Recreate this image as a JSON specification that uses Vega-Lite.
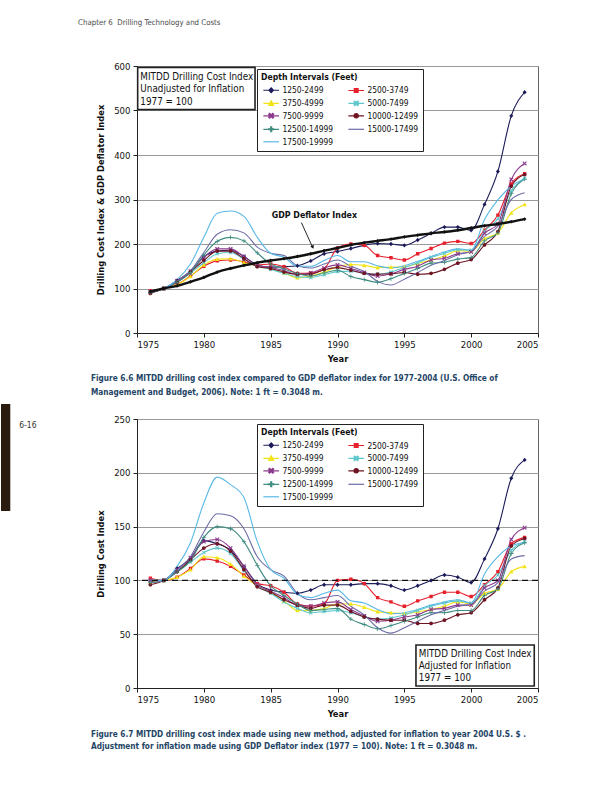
{
"$schema": "https://vega.github.io/schema/vega-lite/v6.json",
"padding": {"left": 0, "top": 18, "right": 5, "bottom": 5},
"background": "white",
"config": {
  "font": "DejaVu Sans Condensed, DejaVu Sans, sans-serif",
  "view": {"stroke": "#666", "strokeWidth": 1},
  "axis": {"labelFontSize": 9.5, "titleFontSize": 9.3, "titleFontWeight": "bold", "tickSize": 4, "labelPadding": 3, "domainColor": "#222", "tickColor": "#222", "labelColor": "#111", "titleColor": "#111", "gridColor": "#9a9a9a", "gridOpacity": 1},
  "legend": {"labelFontSize": 8.4, "labelColor": "#111", "titleFontSize": 8.6, "titleFontWeight": "bold", "titleColor": "#111", "labelLimit": 200, "symbolStrokeWidth": 1.2}
},
"datasets": {
"depth": [
{"series":"1250-2499","year":1976,"unadj":92,"adj":99},{"series":"1250-2499","year":1977,"unadj":100,"adj":100},{"series":"1250-2499","year":1978,"unadj":118,"adj":111},{"series":"1250-2499","year":1979,"unadj":138,"adj":120},{"series":"1250-2499","year":1980,"unadj":171,"adj":137},{"series":"1250-2499","year":1981,"unadj":184,"adj":134},{"series":"1250-2499","year":1982,"unadj":186,"adj":128},{"series":"1250-2499","year":1983,"unadj":172,"adj":113},{"series":"1250-2499","year":1984,"unadj":153,"adj":97},{"series":"1250-2499","year":1985,"unadj":148,"adj":91},{"series":"1250-2499","year":1986,"unadj":149,"adj":89},{"series":"1250-2499","year":1987,"unadj":151,"adj":88},{"series":"1250-2499","year":1988,"unadj":162,"adj":91},{"series":"1250-2499","year":1989,"unadj":178,"adj":96},{"series":"1250-2499","year":1990,"unadj":183,"adj":96},{"series":"1250-2499","year":1991,"unadj":190,"adj":96},{"series":"1250-2499","year":1992,"unadj":197,"adj":97},{"series":"1250-2499","year":1993,"unadj":201,"adj":97},{"series":"1250-2499","year":1994,"unadj":200,"adj":95},{"series":"1250-2499","year":1995,"unadj":197,"adj":91},{"series":"1250-2499","year":1996,"unadj":209,"adj":95},{"series":"1250-2499","year":1997,"unadj":224,"adj":100},{"series":"1250-2499","year":1998,"unadj":238,"adj":105},{"series":"1250-2499","year":1999,"unadj":238,"adj":103},{"series":"1250-2499","year":2000,"unadj":231,"adj":98},{"series":"1250-2499","year":2001,"unadj":289,"adj":120},{"series":"1250-2499","year":2002,"unadj":363,"adj":148},{"series":"1250-2499","year":2003,"unadj":488,"adj":195},{"series":"1250-2499","year":2004,"unadj":541,"adj":212},
{"series":"2500-3749","year":1976,"unadj":95,"adj":102},{"series":"2500-3749","year":1977,"unadj":100,"adj":100},{"series":"2500-3749","year":1978,"unadj":109,"adj":103},{"series":"2500-3749","year":1979,"unadj":128,"adj":111},{"series":"2500-3749","year":1980,"unadj":150,"adj":120},{"series":"2500-3749","year":1981,"unadj":162,"adj":118},{"series":"2500-3749","year":1982,"unadj":164,"adj":113},{"series":"2500-3749","year":1983,"unadj":160,"adj":105},{"series":"2500-3749","year":1984,"unadj":153,"adj":97},{"series":"2500-3749","year":1985,"unadj":155,"adj":95},{"series":"2500-3749","year":1986,"unadj":149,"adj":89},{"series":"2500-3749","year":1987,"unadj":134,"adj":78},{"series":"2500-3749","year":1988,"unadj":135,"adj":76},{"series":"2500-3749","year":1989,"unadj":144,"adj":78},{"series":"2500-3749","year":1990,"unadj":191,"adj":100},{"series":"2500-3749","year":1991,"unadj":200,"adj":101},{"series":"2500-3749","year":1992,"unadj":197,"adj":97},{"series":"2500-3749","year":1993,"unadj":174,"adj":84},{"series":"2500-3749","year":1994,"unadj":169,"adj":80},{"series":"2500-3749","year":1995,"unadj":164,"adj":76},{"series":"2500-3749","year":1996,"unadj":178,"adj":81},{"series":"2500-3749","year":1997,"unadj":190,"adj":85},{"series":"2500-3749","year":1998,"unadj":202,"adj":89},{"series":"2500-3749","year":1999,"unadj":206,"adj":89},{"series":"2500-3749","year":2000,"unadj":201,"adj":85},{"series":"2500-3749","year":2001,"unadj":231,"adj":96},{"series":"2500-3749","year":2002,"unadj":265,"adj":108},{"series":"2500-3749","year":2003,"unadj":335,"adj":134},{"series":"2500-3749","year":2004,"unadj":358,"adj":140},
{"series":"3750-4999","year":1976,"unadj":91,"adj":98},{"series":"3750-4999","year":1977,"unadj":100,"adj":100},{"series":"3750-4999","year":1978,"unadj":109,"adj":103},{"series":"3750-4999","year":1979,"unadj":127,"adj":110},{"series":"3750-4999","year":1980,"unadj":153,"adj":122},{"series":"3750-4999","year":1981,"unadj":166,"adj":121},{"series":"3750-4999","year":1982,"unadj":167,"adj":115},{"series":"3750-4999","year":1983,"unadj":158,"adj":104},{"series":"3750-4999","year":1984,"unadj":150,"adj":95},{"series":"3750-4999","year":1985,"unadj":145,"adj":89},{"series":"3750-4999","year":1986,"unadj":135,"adj":81},{"series":"3750-4999","year":1987,"unadj":124,"adj":72},{"series":"3750-4999","year":1988,"unadj":128,"adj":72},{"series":"3750-4999","year":1989,"unadj":137,"adj":74},{"series":"3750-4999","year":1990,"unadj":149,"adj":78},{"series":"3750-4999","year":1991,"unadj":154,"adj":78},{"series":"3750-4999","year":1992,"unadj":152,"adj":75},{"series":"3750-4999","year":1993,"unadj":147,"adj":71},{"series":"3750-4999","year":1994,"unadj":148,"adj":70},{"series":"3750-4999","year":1995,"unadj":149,"adj":69},{"series":"3750-4999","year":1996,"unadj":156,"adj":71},{"series":"3750-4999","year":1997,"unadj":164,"adj":73},{"series":"3750-4999","year":1998,"unadj":173,"adj":76},{"series":"3750-4999","year":1999,"unadj":185,"adj":80},{"series":"3750-4999","year":2000,"unadj":184,"adj":78},{"series":"3750-4999","year":2001,"unadj":212,"adj":88},{"series":"3750-4999","year":2002,"unadj":225,"adj":92},{"series":"3750-4999","year":2003,"unadj":270,"adj":108},{"series":"3750-4999","year":2004,"unadj":289,"adj":113},
{"series":"5000-7499","year":1976,"unadj":93,"adj":100},{"series":"5000-7499","year":1977,"unadj":100,"adj":100},{"series":"5000-7499","year":1978,"unadj":116,"adj":109},{"series":"5000-7499","year":1979,"unadj":135,"adj":117},{"series":"5000-7499","year":1980,"unadj":158,"adj":126},{"series":"5000-7499","year":1981,"unadj":178,"adj":130},{"series":"5000-7499","year":1982,"unadj":181,"adj":125},{"series":"5000-7499","year":1983,"unadj":166,"adj":109},{"series":"5000-7499","year":1984,"unadj":150,"adj":95},{"series":"5000-7499","year":1985,"unadj":143,"adj":88},{"series":"5000-7499","year":1986,"unadj":134,"adj":80},{"series":"5000-7499","year":1987,"unadj":127,"adj":74},{"series":"5000-7499","year":1988,"unadj":125,"adj":70},{"series":"5000-7499","year":1989,"unadj":131,"adj":71},{"series":"5000-7499","year":1990,"unadj":138,"adj":72},{"series":"5000-7499","year":1991,"unadj":139,"adj":70},{"series":"5000-7499","year":1992,"unadj":134,"adj":66},{"series":"5000-7499","year":1993,"unadj":132,"adj":64},{"series":"5000-7499","year":1994,"unadj":137,"adj":65},{"series":"5000-7499","year":1995,"unadj":147,"adj":68},{"series":"5000-7499","year":1996,"unadj":158,"adj":72},{"series":"5000-7499","year":1997,"unadj":170,"adj":76},{"series":"5000-7499","year":1998,"unadj":179,"adj":79},{"series":"5000-7499","year":1999,"unadj":187,"adj":81},{"series":"5000-7499","year":2000,"unadj":186,"adj":79},{"series":"5000-7499","year":2001,"unadj":229,"adj":95},{"series":"5000-7499","year":2002,"unadj":257,"adj":105},{"series":"5000-7499","year":2003,"unadj":320,"adj":128},{"series":"5000-7499","year":2004,"unadj":348,"adj":136},
{"series":"7500-9999","year":1976,"unadj":93,"adj":100},{"series":"7500-9999","year":1977,"unadj":100,"adj":100},{"series":"7500-9999","year":1978,"unadj":117,"adj":110},{"series":"7500-9999","year":1979,"unadj":139,"adj":121},{"series":"7500-9999","year":1980,"unadj":170,"adj":136},{"series":"7500-9999","year":1981,"unadj":189,"adj":138},{"series":"7500-9999","year":1982,"unadj":189,"adj":130},{"series":"7500-9999","year":1983,"unadj":172,"adj":113},{"series":"7500-9999","year":1984,"unadj":152,"adj":96},{"series":"7500-9999","year":1985,"unadj":147,"adj":90},{"series":"7500-9999","year":1986,"unadj":140,"adj":84},{"series":"7500-9999","year":1987,"unadj":132,"adj":77},{"series":"7500-9999","year":1988,"unadj":135,"adj":76},{"series":"7500-9999","year":1989,"unadj":146,"adj":79},{"series":"7500-9999","year":1990,"unadj":153,"adj":80},{"series":"7500-9999","year":1991,"unadj":145,"adj":73},{"series":"7500-9999","year":1992,"unadj":136,"adj":67},{"series":"7500-9999","year":1993,"unadj":128,"adj":62},{"series":"7500-9999","year":1994,"unadj":133,"adj":63},{"series":"7500-9999","year":1995,"unadj":143,"adj":66},{"series":"7500-9999","year":1996,"unadj":150,"adj":68},{"series":"7500-9999","year":1997,"unadj":164,"adj":73},{"series":"7500-9999","year":1998,"unadj":168,"adj":74},{"series":"7500-9999","year":1999,"unadj":178,"adj":77},{"series":"7500-9999","year":2000,"unadj":182,"adj":77},{"series":"7500-9999","year":2001,"unadj":224,"adj":93},{"series":"7500-9999","year":2002,"unadj":245,"adj":100},{"series":"7500-9999","year":2003,"unadj":345,"adj":138},{"series":"7500-9999","year":2004,"unadj":381,"adj":149},
{"series":"10000-12499","year":1976,"unadj":89,"adj":96},{"series":"10000-12499","year":1977,"unadj":100,"adj":100},{"series":"10000-12499","year":1978,"unadj":114,"adj":108},{"series":"10000-12499","year":1979,"unadj":137,"adj":119},{"series":"10000-12499","year":1980,"unadj":163,"adj":130},{"series":"10000-12499","year":1981,"unadj":184,"adj":134},{"series":"10000-12499","year":1982,"unadj":184,"adj":127},{"series":"10000-12499","year":1983,"unadj":167,"adj":110},{"series":"10000-12499","year":1984,"unadj":149,"adj":94},{"series":"10000-12499","year":1985,"unadj":145,"adj":89},{"series":"10000-12499","year":1986,"unadj":137,"adj":82},{"series":"10000-12499","year":1987,"unadj":132,"adj":77},{"series":"10000-12499","year":1988,"unadj":132,"adj":74},{"series":"10000-12499","year":1989,"unadj":142,"adj":77},{"series":"10000-12499","year":1990,"unadj":147,"adj":77},{"series":"10000-12499","year":1991,"unadj":141,"adj":71},{"series":"10000-12499","year":1992,"unadj":134,"adj":66},{"series":"10000-12499","year":1993,"unadj":132,"adj":64},{"series":"10000-12499","year":1994,"unadj":133,"adj":63},{"series":"10000-12499","year":1995,"unadj":136,"adj":63},{"series":"10000-12499","year":1996,"unadj":132,"adj":60},{"series":"10000-12499","year":1997,"unadj":134,"adj":60},{"series":"10000-12499","year":1998,"unadj":143,"adj":63},{"series":"10000-12499","year":1999,"unadj":157,"adj":68},{"series":"10000-12499","year":2000,"unadj":165,"adj":70},{"series":"10000-12499","year":2001,"unadj":198,"adj":82},{"series":"10000-12499","year":2002,"unadj":228,"adj":93},{"series":"10000-12499","year":2003,"unadj":330,"adj":132},{"series":"10000-12499","year":2004,"unadj":356,"adj":139},
{"series":"12500-14999","year":1976,"unadj":91,"adj":98},{"series":"12500-14999","year":1977,"unadj":100,"adj":100},{"series":"12500-14999","year":1978,"unadj":114,"adj":108},{"series":"12500-14999","year":1979,"unadj":136,"adj":118},{"series":"12500-14999","year":1980,"unadj":175,"adj":140},{"series":"12500-14999","year":1981,"unadj":206,"adj":150},{"series":"12500-14999","year":1982,"unadj":215,"adj":148},{"series":"12500-14999","year":1983,"unadj":207,"adj":136},{"series":"12500-14999","year":1984,"unadj":180,"adj":114},{"series":"12500-14999","year":1985,"unadj":155,"adj":95},{"series":"12500-14999","year":1986,"unadj":144,"adj":86},{"series":"12500-14999","year":1987,"unadj":134,"adj":78},{"series":"12500-14999","year":1988,"unadj":128,"adj":72},{"series":"12500-14999","year":1989,"unadj":135,"adj":73},{"series":"12500-14999","year":1990,"unadj":141,"adj":74},{"series":"12500-14999","year":1991,"unadj":127,"adj":64},{"series":"12500-14999","year":1992,"unadj":120,"adj":59},{"series":"12500-14999","year":1993,"unadj":114,"adj":55},{"series":"12500-14999","year":1994,"unadj":122,"adj":58},{"series":"12500-14999","year":1995,"unadj":134,"adj":62},{"series":"12500-14999","year":1996,"unadj":145,"adj":66},{"series":"12500-14999","year":1997,"unadj":157,"adj":70},{"series":"12500-14999","year":1998,"unadj":159,"adj":70},{"series":"12500-14999","year":1999,"unadj":166,"adj":72},{"series":"12500-14999","year":2000,"unadj":170,"adj":72},{"series":"12500-14999","year":2001,"unadj":207,"adj":86},{"series":"12500-14999","year":2002,"unadj":225,"adj":92},{"series":"12500-14999","year":2003,"unadj":313,"adj":125},{"series":"12500-14999","year":2004,"unadj":346,"adj":135},
{"series":"15000-17499","year":1976,"unadj":91,"adj":98},{"series":"15000-17499","year":1977,"unadj":100,"adj":100},{"series":"15000-17499","year":1978,"unadj":117,"adj":110},{"series":"15000-17499","year":1979,"unadj":140,"adj":122},{"series":"15000-17499","year":1980,"unadj":181,"adj":145},{"series":"15000-17499","year":1981,"unadj":222,"adj":162},{"series":"15000-17499","year":1982,"unadj":232,"adj":160},{"series":"15000-17499","year":1983,"unadj":225,"adj":148},{"series":"15000-17499","year":1984,"unadj":193,"adj":122},{"series":"15000-17499","year":1985,"unadj":179,"adj":110},{"series":"15000-17499","year":1986,"unadj":174,"adj":104},{"series":"15000-17499","year":1987,"unadj":151,"adj":88},{"series":"15000-17499","year":1988,"unadj":146,"adj":82},{"series":"15000-17499","year":1989,"unadj":155,"adj":84},{"series":"15000-17499","year":1990,"unadj":164,"adj":86},{"series":"15000-17499","year":1991,"unadj":150,"adj":76},{"series":"15000-17499","year":1992,"unadj":138,"adj":68},{"series":"15000-17499","year":1993,"unadj":116,"adj":56},{"series":"15000-17499","year":1994,"unadj":108,"adj":51},{"series":"15000-17499","year":1995,"unadj":121,"adj":56},{"series":"15000-17499","year":1996,"unadj":136,"adj":62},{"series":"15000-17499","year":1997,"unadj":152,"adj":68},{"series":"15000-17499","year":1998,"unadj":163,"adj":72},{"series":"15000-17499","year":1999,"unadj":176,"adj":76},{"series":"15000-17499","year":2000,"unadj":184,"adj":78},{"series":"15000-17499","year":2001,"unadj":217,"adj":90},{"series":"15000-17499","year":2002,"unadj":240,"adj":98},{"series":"15000-17499","year":2003,"unadj":300,"adj":120},{"series":"15000-17499","year":2004,"unadj":315,"adj":123},
{"series":"17500-19999","year":1976,"unadj":93,"adj":100},{"series":"17500-19999","year":1977,"unadj":100,"adj":100},{"series":"17500-19999","year":1978,"unadj":120,"adj":113},{"series":"17500-19999","year":1979,"unadj":155,"adj":135},{"series":"17500-19999","year":1980,"unadj":215,"adj":172},{"series":"17500-19999","year":1981,"unadj":269,"adj":196},{"series":"17500-19999","year":1982,"unadj":274,"adj":189},{"series":"17500-19999","year":1983,"unadj":262,"adj":177},{"series":"17500-19999","year":1984,"unadj":215,"adj":136},{"series":"17500-19999","year":1985,"unadj":179,"adj":110},{"series":"17500-19999","year":1986,"unadj":170,"adj":102},{"series":"17500-19999","year":1987,"unadj":150,"adj":87},{"series":"17500-19999","year":1988,"unadj":150,"adj":84},{"series":"17500-19999","year":1989,"unadj":163,"adj":88},{"series":"17500-19999","year":1990,"unadj":174,"adj":91},{"series":"17500-19999","year":1991,"unadj":160,"adj":81},{"series":"17500-19999","year":1992,"unadj":160,"adj":79},{"series":"17500-19999","year":1993,"unadj":151,"adj":73},{"series":"17500-19999","year":1994,"unadj":146,"adj":69},{"series":"17500-19999","year":1995,"unadj":151,"adj":70},{"series":"17500-19999","year":1996,"unadj":161,"adj":73},{"series":"17500-19999","year":1997,"unadj":172,"adj":77},{"series":"17500-19999","year":1998,"unadj":182,"adj":80},{"series":"17500-19999","year":1999,"unadj":189,"adj":82},{"series":"17500-19999","year":2000,"unadj":186,"adj":79},{"series":"17500-19999","year":2001,"unadj":255,"adj":106},{"series":"17500-19999","year":2002,"unadj":299,"adj":122},{"series":"17500-19999","year":2003,"unadj":330,"adj":132},{"series":"17500-19999","year":2004,"unadj":346,"adj":135}
],
"gdp": [
{"year":1976,"index":93},{"year":1977,"index":100},{"year":1978,"index":106},{"year":1979,"index":115},{"year":1980,"index":125},{"year":1981,"index":137},{"year":1982,"index":145},{"year":1983,"index":152},{"year":1984,"index":158},{"year":1985,"index":163},{"year":1986,"index":167},{"year":1987,"index":172},{"year":1988,"index":178},{"year":1989,"index":185},{"year":1990,"index":191},{"year":1991,"index":198},{"year":1992,"index":203},{"year":1993,"index":207},{"year":1994,"index":211},{"year":1995,"index":216},{"year":1996,"index":220},{"year":1997,"index":224},{"year":1998,"index":227},{"year":1999,"index":231},{"year":2000,"index":236},{"year":2001,"index":241},{"year":2002,"index":245},{"year":2003,"index":250},{"year":2004,"index":256}
]
},
"spacing": 86,
"bounds": "flush",
"resolve": {"legend": {"color": "independent", "shape": "independent", "stroke": "independent"}},
"vconcat": [
{
  "width": 401, "height": 267,
  "layer": [
    {"data": {"name": "depth"},
     "mark": {"type": "line", "strokeWidth": 1.1, "interpolate": "monotone"},
     "encoding": {
       "x": {"field": "year", "type": "quantitative", "scale": {"domain": [1975, 2005], "nice": false, "zero": false}, "axis": {"values": [1975,1980,1985,1990,1995,2000,2005], "format": "d", "title": "Year", "grid": false, "titlePadding": 6, "labelPadding": 2}},
       "y": {"field": "unadj", "type": "quantitative", "scale": {"domain": [0, 600], "nice": false}, "axis": {"values": [0,100,200,300,400,500,600], "title": "Drilling Cost Index & GDP Deflator Index", "grid": true, "titlePadding": 8}},
       "stroke": {"field": "series", "type": "nominal", "scale": {"domain": ["1250-2499","2500-3749","3750-4999","5000-7499","7500-9999","10000-12499","12500-14999","15000-17499","17500-19999"], "range": ["#1c1c5a","#e8202c","#f2e418","#5ec8cc","#8c3a8c","#6e1423","#3f8c80","#6c6ca6","#58b8e6"]},
         "legend": {"title": "Depth Intervals (Feet)", "orient": "none", "legendX": 120, "legendY": 3, "columns": 2, "direction": "horizontal", "strokeColor": "#222", "fillColor": "white", "padding": 4, "symbolSize": 20, "symbolOffset": 6, "labelOffset": 7, "columnPadding": 11, "rowPadding": 2.5, "titlePadding": 4}}
     }},
    {"data": {"name": "depth"},
     "mark": {"type": "point", "filled": true, "size": 16, "opacity": 1},
     "encoding": {
       "x": {"field": "year", "type": "quantitative"},
       "y": {"field": "unadj", "type": "quantitative"},
       "color": {"field": "series", "type": "nominal", "scale": {"domain": ["1250-2499","2500-3749","3750-4999","5000-7499","7500-9999","10000-12499","12500-14999","15000-17499","17500-19999"], "range": ["#1c1c5a","#e8202c","#f2e418","#5ec8cc","#8c3a8c","#6e1423","#3f8c80","#6c6ca6","#58b8e6"]},
         "legend": {"title": "Depth Intervals (Feet)", "orient": "none", "legendX": 120, "legendY": 3, "columns": 2, "direction": "horizontal", "strokeColor": "#222", "fillColor": "white", "padding": 4, "symbolSize": 20, "symbolOffset": 6, "labelOffset": 7, "columnPadding": 11, "rowPadding": 2.5, "titlePadding": 4}},
       "shape": {"field": "series", "type": "nominal", "scale": {"domain": ["1250-2499","2500-3749","3750-4999","5000-7499","7500-9999","10000-12499","12500-14999","15000-17499","17500-19999"], "range": [
           "M-3.5,0H3.5M0,-1.1L1,0L0,1.1L-1,0Z",
           "M-3.5,0H3.5M-0.85,-0.85H0.85V0.85H-0.85Z",
           "M-3.5,0H3.5M0,-1.1L1.1,0.9H-1.1Z",
           "M-3.5,0H3.5M-1,-0.65L-0.65,-1L0,-0.35L0.65,-1L1,-0.65L0.35,0L1,0.65L0.65,1L0,0.35L-0.65,1L-1,0.65L-0.35,0Z",
           "M-3.5,0H3.5M-1.1,-0.7L-0.7,-1.1L0,-0.4L0.7,-1.1L1.1,-0.7L0.4,0L1.1,0.7L0.7,1.1L0,0.4L-0.7,1.1L-1.1,0.7L-0.4,0Z",
           "M-3.5,0H3.5M0.95,0A0.95,0.95,0,1,1,-0.95,0A0.95,0.95,0,1,1,0.95,0Z",
           "M-3.5,0H3.5M-0.2,-1.1H0.2V-0.2H1.1V0.2H0.2V1.1H-0.2V0.2H-1.1V-0.2H-0.2Z",
           "M-3.5,0H3.5",
           "M-3.5,0H3.5"]},
         "legend": {"title": "Depth Intervals (Feet)", "orient": "none", "legendX": 120, "legendY": 3, "columns": 2, "direction": "horizontal", "strokeColor": "#222", "fillColor": "white", "padding": 4, "symbolSize": 20, "symbolOffset": 6, "labelOffset": 7, "columnPadding": 11, "rowPadding": 2.5, "titlePadding": 4}}
     }},
    {"data": {"name": "gdp"},
     "mark": {"type": "line", "strokeWidth": 2.4, "color": "#111", "interpolate": "monotone"},
     "encoding": {"x": {"field": "year", "type": "quantitative"}, "y": {"field": "index", "type": "quantitative"}}},
    {"data": {"name": "gdp"},
     "mark": {"type": "point", "filled": true, "shape": "diamond", "size": 14, "color": "#111", "opacity": 1},
     "encoding": {"x": {"field": "year", "type": "quantitative"}, "y": {"field": "index", "type": "quantitative"}}},
    {"data": {"values": [{}]},
     "mark": {"type": "rule", "color": "#111", "strokeWidth": 0.9},
     "encoding": {"x": {"datum": 1987.3, "type": "quantitative"}, "y": {"datum": 248, "type": "quantitative"}, "x2": {"datum": 1988.1}, "y2": {"datum": 195}}},
    {"data": {"values": [{}]},
     "mark": {"type": "point", "shape": "triangle-down", "filled": true, "size": 16, "angle": 335, "color": "#111", "opacity": 1},
     "encoding": {"x": {"datum": 1988.15, "type": "quantitative"}, "y": {"datum": 193, "type": "quantitative"}}},
    {"data": {"values": [{}]},
     "mark": {"type": "text", "text": "GDP Deflator Index", "fontSize": 8.8, "fontWeight": "bold", "color": "#111", "align": "center", "baseline": "middle"},
     "encoding": {"x": {"datum": 1988.27, "type": "quantitative"}, "y": {"datum": 265, "type": "quantitative"}}},
    {"data": {"values": [{}]},
     "mark": {"type": "rect", "fill": "white", "stroke": "#222", "strokeWidth": 1.6},
     "encoding": {"x": {"datum": 1975.05, "type": "quantitative"}, "x2": {"datum": 1983.83}, "y": {"datum": 597, "type": "quantitative"}, "y2": {"datum": 502}}},
    {"data": {"values": [{}]},
     "mark": {"type": "text", "text": ["MITDD Drilling Cost Index", "Unadjusted for Inflation", "1977 = 100"], "lineHeight": 12.2, "fontSize": 9.8, "color": "#111", "align": "left", "baseline": "middle"},
     "encoding": {"x": {"datum": 1975.25, "type": "quantitative"}, "y": {"datum": 574.6, "type": "quantitative"}}},
    {"data": {"values": [{}]},
     "mark": {"type": "text", "text": "Chapter 6\u00a0 Drilling Technology and Costs", "fontSize": 7.8, "color": "#4a4a4a", "align": "left", "baseline": "middle"},
     "encoding": {"x": {"datum": 1970.59, "type": "quantitative"}, "y": {"datum": 697.3, "type": "quantitative"}}},
    {"data": {"values": [{}]},
     "mark": {"type": "text", "text": ["Figure 6.6 MITDD drilling cost index compared to GDP deflator index for 1977-2004 (U.S. Office of", "Management and Budget, 2006). Note: 1 ft = 0.3048 m."], "lineHeight": 13.4, "fontSize": 8.2, "fontWeight": "bold", "color": "#1f4566", "align": "left", "baseline": "middle"},
     "encoding": {"x": {"datum": 1971.56, "type": "quantitative"}, "y": {"datum": -104, "type": "quantitative"}}}
  ]
},
{
  "width": 401, "height": 269,
  "layer": [
    {"data": {"name": "depth"},
     "mark": {"type": "line", "strokeWidth": 1.1, "interpolate": "monotone"},
     "encoding": {
       "x": {"field": "year", "type": "quantitative", "scale": {"domain": [1975, 2005], "nice": false, "zero": false}, "axis": {"values": [1975,1980,1985,1990,1995,2000,2005], "format": "d", "title": "Year", "grid": false, "titlePadding": 6, "labelPadding": 2}},
       "y": {"field": "adj", "type": "quantitative", "scale": {"domain": [0, 250], "nice": false}, "axis": {"values": [0,50,100,150,200,250], "title": "Drilling Cost Index", "grid": true, "titlePadding": 8}},
       "stroke": {"field": "series", "type": "nominal", "scale": {"domain": ["1250-2499","2500-3749","3750-4999","5000-7499","7500-9999","10000-12499","12500-14999","15000-17499","17500-19999"], "range": ["#1c1c5a","#e8202c","#f2e418","#5ec8cc","#8c3a8c","#6e1423","#3f8c80","#6c6ca6","#58b8e6"]},
         "legend": {"title": "Depth Intervals (Feet)", "orient": "none", "legendX": 120, "legendY": 5, "columns": 2, "direction": "horizontal", "strokeColor": "#222", "fillColor": "white", "padding": 4, "symbolSize": 20, "symbolOffset": 6, "labelOffset": 7, "columnPadding": 11, "rowPadding": 2.5, "titlePadding": 4}}
     }},
    {"data": {"name": "depth"},
     "mark": {"type": "point", "filled": true, "size": 16, "opacity": 1},
     "encoding": {
       "x": {"field": "year", "type": "quantitative"},
       "y": {"field": "adj", "type": "quantitative"},
       "color": {"field": "series", "type": "nominal", "scale": {"domain": ["1250-2499","2500-3749","3750-4999","5000-7499","7500-9999","10000-12499","12500-14999","15000-17499","17500-19999"], "range": ["#1c1c5a","#e8202c","#f2e418","#5ec8cc","#8c3a8c","#6e1423","#3f8c80","#6c6ca6","#58b8e6"]},
         "legend": {"title": "Depth Intervals (Feet)", "orient": "none", "legendX": 120, "legendY": 5, "columns": 2, "direction": "horizontal", "strokeColor": "#222", "fillColor": "white", "padding": 4, "symbolSize": 20, "symbolOffset": 6, "labelOffset": 7, "columnPadding": 11, "rowPadding": 2.5, "titlePadding": 4}},
       "shape": {"field": "series", "type": "nominal", "scale": {"domain": ["1250-2499","2500-3749","3750-4999","5000-7499","7500-9999","10000-12499","12500-14999","15000-17499","17500-19999"], "range": [
           "M-3.5,0H3.5M0,-1.1L1,0L0,1.1L-1,0Z",
           "M-3.5,0H3.5M-0.85,-0.85H0.85V0.85H-0.85Z",
           "M-3.5,0H3.5M0,-1.1L1.1,0.9H-1.1Z",
           "M-3.5,0H3.5M-1,-0.65L-0.65,-1L0,-0.35L0.65,-1L1,-0.65L0.35,0L1,0.65L0.65,1L0,0.35L-0.65,1L-1,0.65L-0.35,0Z",
           "M-3.5,0H3.5M-1.1,-0.7L-0.7,-1.1L0,-0.4L0.7,-1.1L1.1,-0.7L0.4,0L1.1,0.7L0.7,1.1L0,0.4L-0.7,1.1L-1.1,0.7L-0.4,0Z",
           "M-3.5,0H3.5M0.95,0A0.95,0.95,0,1,1,-0.95,0A0.95,0.95,0,1,1,0.95,0Z",
           "M-3.5,0H3.5M-0.2,-1.1H0.2V-0.2H1.1V0.2H0.2V1.1H-0.2V0.2H-1.1V-0.2H-0.2Z",
           "M-3.5,0H3.5",
           "M-3.5,0H3.5"]},
         "legend": {"title": "Depth Intervals (Feet)", "orient": "none", "legendX": 120, "legendY": 5, "columns": 2, "direction": "horizontal", "strokeColor": "#222", "fillColor": "white", "padding": 4, "symbolSize": 20, "symbolOffset": 6, "labelOffset": 7, "columnPadding": 11, "rowPadding": 2.5, "titlePadding": 4}}
     }},
    {"data": {"values": [{}]},
     "mark": {"type": "rule", "color": "#111", "strokeWidth": 1.2, "strokeDash": [6, 4]},
     "encoding": {"y": {"datum": 100, "type": "quantitative"}}},
    {"data": {"values": [{}]},
     "mark": {"type": "rect", "fill": "white", "stroke": "#222", "strokeWidth": 1.6},
     "encoding": {"x": {"datum": 1995.87, "type": "quantitative"}, "x2": {"datum": 2004.72}, "y": {"datum": 40, "type": "quantitative"}, "y2": {"datum": 1.9}}},
    {"data": {"values": [{}]},
     "mark": {"type": "text", "text": ["MITDD Drilling Cost Index", "Adjusted for Inflation", "1977 = 100"], "lineHeight": 12, "fontSize": 9.8, "color": "#111", "align": "left", "baseline": "middle"},
     "encoding": {"x": {"datum": 1996.08, "type": "quantitative"}, "y": {"datum": 31.6, "type": "quantitative"}}},
    {"data": {"values": [{}]},
     "mark": {"type": "text", "text": ["Figure 6.7 MITDD drilling cost index made using new method, adjusted for inflation to year 2004 U.S. $ .", "Adjustment for inflation made using GDP Deflator index (1977 = 100). Note: 1 ft = 0.3048 m."], "lineHeight": 11.7, "fontSize": 8.2, "fontWeight": "bold", "color": "#1f4566", "align": "left", "baseline": "middle"},
     "encoding": {"x": {"datum": 1971.56, "type": "quantitative"}, "y": {"datum": -43.7, "type": "quantitative"}}},
    {"data": {"values": [{}]},
     "mark": {"type": "text", "text": "6-16", "fontSize": 8.5, "color": "#333", "align": "left", "baseline": "middle"},
     "encoding": {"x": {"datum": 1966.19, "type": "quantitative"}, "y": {"datum": 244, "type": "quantitative"}}},
    {"data": {"values": [{}]},
     "mark": {"type": "rect", "fill": "#2b1a0e"},
     "encoding": {"x": {"datum": 1964.826, "type": "quantitative"}, "x2": {"datum": 1965.52}, "y": {"datum": 263.9, "type": "quantitative"}, "y2": {"datum": 164.5}}}
  ]
}
]
}
